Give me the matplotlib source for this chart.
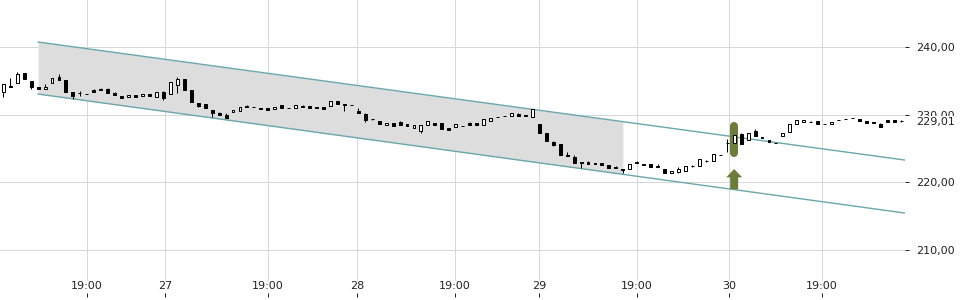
import numpy as np
import matplotlib.pyplot as plt
from matplotlib.ticker import FuncFormatter

# Candles (one per period)
opens = [233.35, 234.30, 234.68, 236.20, 234.98, 234.13, 233.75, 234.64, 235.61, 235.12,
         233.35, 233.16, 233.05, 233.60, 233.75, 233.75, 233.20, 232.76, 232.57, 232.91,
         232.71, 233.10, 232.57, 233.39, 233.01, 234.34, 235.27, 233.65, 231.72, 231.58,
         230.69, 230.20, 229.91, 230.35, 230.59, 231.33, 231.09, 230.99, 230.99, 230.79,
         231.38, 230.94, 230.94, 231.33, 231.28, 231.18, 231.18, 231.24, 232.06, 231.58,
         231.43, 230.50, 230.14, 229.32, 229.02, 228.43, 228.81, 228.96, 228.62, 228.07,
         227.63, 228.47, 228.77, 228.72, 228.03, 228.18, 228.33, 228.72, 228.72, 228.52,
         229.11, 229.61, 229.80, 229.76, 230.05, 229.99, 229.71, 228.67, 227.34, 226.01,
         225.71, 224.04, 223.79, 223.01, 223.01, 222.86, 222.81, 222.56, 222.31, 221.97,
         221.93, 223.05, 222.71, 222.76, 222.46, 222.02, 221.42, 221.53, 221.63, 222.41,
         222.41, 223.15, 223.15, 223.99, 225.77, 225.86, 227.14, 226.26, 227.54, 226.70,
         226.26, 225.81, 226.85, 227.39, 228.62, 228.87, 228.96, 229.06, 228.58, 228.58,
         229.21, 229.32, 229.46, 229.32, 229.02, 228.96, 228.58, 229.17, 229.17, 229.01]
highs = [234.60, 235.42, 236.26, 236.20, 234.98, 234.13, 234.53, 235.37, 235.97, 235.12,
         233.35, 233.45, 233.05, 233.75, 233.94, 233.90, 233.35, 232.76, 232.91, 232.91,
         233.10, 233.10, 233.35, 233.50, 234.78, 235.52, 235.27, 233.65, 231.72, 231.58,
         230.69, 230.44, 230.20, 230.69, 231.09, 231.48, 231.09, 230.99, 230.99, 231.18,
         231.38, 230.94, 231.38, 231.48, 231.28, 231.18, 231.18, 231.98, 232.06, 231.58,
         231.43, 230.94, 230.29, 229.40, 229.02, 228.81, 228.81, 229.05, 228.62, 228.43,
         228.43, 229.11, 228.77, 228.72, 228.03, 228.62, 228.33, 228.87, 228.82, 229.40,
         229.51, 229.61, 229.80, 230.20, 230.20, 229.99, 230.79, 228.67, 227.34, 226.16,
         225.71, 224.53, 224.04, 223.01, 223.20, 222.86, 222.81, 222.56, 222.46, 221.97,
         222.71, 223.20, 222.71, 222.76, 222.71, 222.02, 221.72, 222.31, 222.46, 222.60,
         223.40, 223.35, 224.19, 223.99, 226.44, 227.00, 227.34, 227.25, 227.84, 226.70,
         226.26, 225.81, 227.25, 228.62, 229.21, 229.17, 229.06, 229.06, 228.58, 228.87,
         229.21, 229.32, 229.56, 229.32, 229.02, 228.96, 228.77, 229.17, 229.17, 229.15]
lows = [232.66, 234.15, 234.68, 235.23, 233.75, 233.75, 233.75, 234.64, 235.12, 233.31,
        232.32, 232.80, 233.05, 233.31, 233.62, 233.16, 232.91, 232.51, 232.57, 232.57,
        232.71, 232.71, 232.57, 232.15, 233.01, 233.16, 233.65, 231.92, 231.09, 231.03,
        229.71, 229.91, 229.46, 230.35, 230.59, 231.13, 231.09, 230.79, 230.73, 230.79,
        231.03, 230.94, 230.94, 231.18, 231.03, 230.94, 230.88, 231.24, 231.53, 230.59,
        231.43, 230.20, 228.96, 229.25, 228.58, 228.43, 228.33, 228.45, 228.28, 228.07,
        227.34, 228.47, 228.52, 227.84, 227.73, 228.18, 228.33, 228.52, 228.52, 228.52,
        229.11, 229.61, 229.80, 229.76, 229.85, 229.76, 229.71, 227.34, 226.11, 225.37,
        224.08, 223.85, 222.90, 222.16, 222.76, 222.67, 222.56, 222.07, 222.12, 221.34,
        221.93, 222.86, 222.52, 222.27, 222.22, 221.42, 221.42, 221.34, 221.63, 222.20,
        222.41, 222.95, 223.15, 223.99, 224.48, 225.86, 225.62, 226.26, 226.85, 226.51,
        225.92, 225.81, 226.85, 227.39, 228.62, 228.87, 228.86, 228.62, 228.58, 228.58,
        229.21, 229.32, 229.46, 229.02, 228.77, 228.72, 228.22, 228.96, 228.96, 228.90]
closes = [234.53, 234.15, 236.01, 235.23, 234.04, 233.75, 234.13, 235.37, 235.12, 233.31,
          232.76, 233.16, 233.05, 233.31, 233.62, 233.16, 232.91, 232.51, 232.91, 232.57,
          233.10, 232.71, 233.35, 232.42, 234.78, 235.23, 233.65, 231.92, 231.33, 231.03,
          230.20, 229.91, 229.46, 230.69, 231.09, 231.13, 231.09, 230.79, 230.73, 231.18,
          231.03, 230.94, 231.38, 231.18, 231.03, 230.94, 230.88, 231.98, 231.53, 231.38,
          231.43, 230.20, 229.21, 229.32, 228.58, 228.81, 228.33, 228.52, 228.28, 228.43,
          228.43, 229.11, 228.52, 227.84, 227.73, 228.62, 228.33, 228.52, 228.52, 229.40,
          229.51, 229.61, 229.80, 230.20, 229.85, 229.76, 230.79, 227.34, 226.11, 225.52,
          224.08, 223.85, 222.90, 222.81, 222.76, 222.67, 222.56, 222.07, 222.12, 221.78,
          222.71, 222.86, 222.52, 222.27, 222.22, 221.42, 221.72, 222.02, 222.46, 222.41,
          223.40, 223.15, 224.19, 223.99, 225.77, 227.00, 225.62, 227.25, 226.85, 226.51,
          225.92, 225.81, 227.25, 228.62, 229.21, 229.17, 228.96, 228.62, 228.58, 228.87,
          229.21, 229.32, 229.46, 229.02, 228.77, 228.72, 228.22, 228.96, 228.96, 229.01]

# Axis labels (x in candle index)
tick_pos = [12.0, 23.2, 38.0, 50.8, 64.9, 77.0, 91.0, 104.3, 117.6]
tick_lab = ['19:00', '27', '19:00', '28', '19:00', '29', '19:00', '30', '19:00']
y_ticks = [210, 220, 230, 240]
last_price = 229.01

# Trend channel
chan_x = [5.0, 129.5]
chan_up = [240.74, 223.30]
chan_lo = [233.05, 215.47]
shade_end = 89.0

# Signal marker
sig_x = 105
sig_top, sig_bot = 228.92, 223.74
arrow_base, arrow_tip = 218.97, 221.97

PX = 0.72  # one pixel in points
green = '#6b7c3b'
teal = '#6aa7ac'
grid_c = '#d8d8d8'
txt_c = '#222222'

fig = plt.figure(figsize=(9.6, 3.0), dpi=100)
ax = fig.add_axes([0, 3/300, 905/960, 297/300])
ax.set_xlim(-0.474, 129.54)
ax.set_ylim(203.06, 246.95)

# grid
for v in y_ticks:
    ax.axhline(v, color=grid_c, lw=PX, zorder=0)
for t in tick_pos:
    ax.axvline(t, ymin=0.057, ymax=1, color=grid_c, lw=PX, zorder=0)

# channel
xs = np.array([chan_x[0], shade_end])
ax.fill_between(xs, np.interp(xs, chan_x, chan_lo), np.interp(xs, chan_x, chan_up),
                color='#dddddd', lw=0, zorder=1)
ax.plot(chan_x, chan_up, color=teal, lw=1.0, zorder=2)
ax.plot(chan_x, chan_lo, color=teal, lw=1.0, zorder=2)

# signal pill + arrow
d = 4.0 / 6.767
ax.plot([sig_x, sig_x], [sig_bot + d, sig_top - d], color=green, lw=8*PX,
        solid_capstyle='round', zorder=3)
ax.arrow(sig_x, arrow_base, 0, arrow_tip - arrow_base, width=1.15, head_width=2.3,
         head_length=1.23, length_includes_head=True, color=green, lw=0, zorder=3)

# candles
x = np.arange(len(opens))
o = np.array(opens); c = np.array(closes)
ax.vlines(x, lows, highs, color='black', lw=PX, zorder=4)
up = c >= o
ax.bar(x[up], (c - o)[up], bottom=o[up], width=0.42, color='white',
       edgecolor='black', lw=PX, zorder=5)
ax.bar(x[~up], (o - c)[~up], bottom=c[~up], width=0.42, color='black',
       edgecolor='black', lw=PX, zorder=5)

# axes styling
for s in ax.spines.values():
    s.set_visible(False)
ax.set_xticks(tick_pos)
ax.set_xticklabels(tick_lab)
ax.tick_params(axis='x', direction='in', length=4*PX, width=PX, pad=-16*PX,
               labelsize=8, colors=txt_c)
ax.yaxis.tick_right()
ax.set_yticks(y_ticks)
ax.yaxis.set_major_formatter(FuncFormatter(lambda v, p: f'{v:.2f}'.replace('.', ',')))
ax.tick_params(axis='y', direction='out', length=4*PX, width=PX, pad=7*PX,
               labelsize=8, colors=txt_c)

ax.annotate(f'{last_price:.2f}'.replace('.', ','), xy=(1, last_price),
            xycoords=('axes fraction', 'data'), xytext=(11*PX, 0),
            textcoords='offset points', va='center_baseline', ha='left', fontsize=8,
            color=txt_c, annotation_clip=False,
            bbox=dict(boxstyle='square,pad=0.15', fc='white', ec='none'))

plt.savefig('out.png', dpi=100)
